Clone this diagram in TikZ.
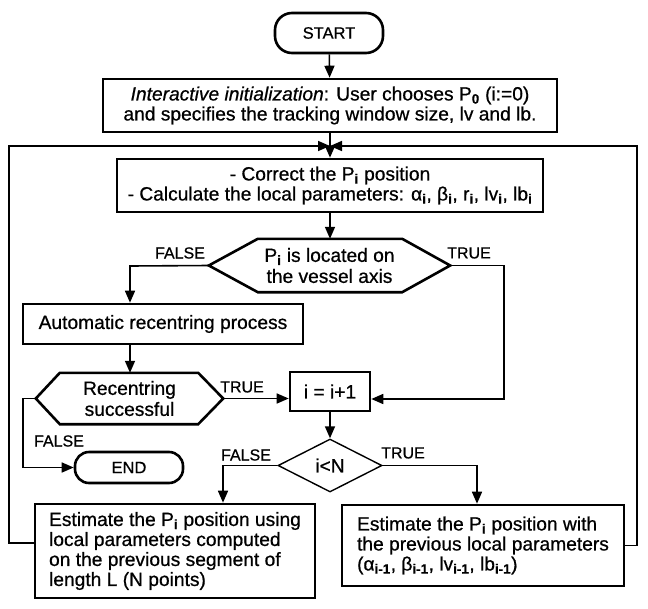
\documentclass[tikz,border=0pt]{standalone}
\usepackage{fontspec}
\setmainfont{Liberation Sans}[FakeBold=0.7]
\usetikzlibrary{arrows.meta,shapes.geometric,calc}
\newcommand{\sbi}[1]{\textsubscript{\bfseries #1}}
\begin{document}
\begin{tikzpicture}[x=1pt,y=-1pt,
  box/.style={draw,line width=2.6pt,inner sep=0pt,align=center,font=\fontsize{19.2}{20}\selectfont},
  term/.style={draw,line width=2.6pt,rounded corners=17pt,inner sep=0pt,font=\fontsize{16.5}{18}\selectfont},
  hexnode/.style={inner sep=0pt,align=center,font=\fontsize{19.2}{21}\selectfont},
  hexline/.style={line width=2.6pt},
  lbl/.style={font=\fontsize{16}{18}\selectfont,inner sep=0pt},
  conn/.style={line width=1.6pt},
  arr/.style={conn,-{Triangle[length=12pt,width=10pt]}},
  dia/.style={draw,diamond,line width=1.4pt,inner sep=0pt,aspect=1.96,minimum width=104pt,minimum height=53pt,font=\fontsize{19.2}{20}\selectfont}
]
\useasboundingbox (0,0) rectangle (648,608);

% nodes
\node[term,minimum width=108pt,minimum height=40pt] (start) at (329,33) {START};
\node[box,minimum width=454pt,minimum height=53pt] (init) at (330,105.5)
  {\textit{Interactive initialization}: User chooses P\sbi{0} (i:=0)\\and specifies the tracking window size, lv and lb.};
\coordinate (J) at (330,146);
\node[box,minimum width=426pt,minimum height=53pt] (corr) at (330,185.5)
  {- Correct the P\sbi{i} position\\- Calculate the local parameters: α\sbi{i}, β\sbi{i}, r\sbi{i}, lv\sbi{i}, lb\sbi{i}};

\node[hexnode,minimum width=241pt,minimum height=53pt] (d1) at (329.5,265.5)
  {P\sbi{i} is located on\\the vessel axis};
\draw[hexline] (d1.west) -- ($(d1.north west)+(49,0)$) -- ($(d1.north east)+(-48,0)$)
  -- (d1.east) -- ($(d1.south east)+(-48,0)$) -- ($(d1.south west)+(49,0)$) -- cycle;

\node[box,minimum width=280pt,minimum height=40pt] (auto) at (163,324) {Automatic recentring process};

\node[hexnode,minimum width=187pt,minimum height=51pt] (d2) at (129.5,398.5)
  {Recentring\\successful};
\draw[hexline] (d2.west) -- ($(d2.north west)+(24,0)$) -- ($(d2.north east)+(-25,0)$)
  -- (d2.east) -- ($(d2.south east)+(-25,0)$) -- ($(d2.south west)+(24,0)$) -- cycle;

\node[box,minimum width=80pt,minimum height=39pt] (inc) at (330,391.5) {i = i+1};
\node[term,rounded corners=14pt,minimum width=108pt,minimum height=31pt] (end) at (129,467.5) {END};
\node[dia] (d3) at (330,465.5) {i<N};

\node[box,align=left,minimum width=280pt,minimum height=94pt] (estL) at (175,551)
  {Estimate the P\sbi{i} position using\\local parameters computed\\on the  previous segment of\\length L (N points)};
\node[box,align=left,minimum width=282pt,minimum height=81pt] (estR) at (483,545.5)
  {Estimate the P\sbi{i} position with\\the previous local parameters\\(α\sbi{i-1}, β\sbi{i-1}, lv\sbi{i-1}, lb\sbi{i-1})};

% labels
\node[lbl] (lf1) at (180,253) {FALSE};
\node[lbl] (lt1) at (469,253) {TRUE};
\node[lbl] (lt2) at (242,387) {TRUE};
\node[lbl] (lf2) at (59,441) {FALSE};
\node[lbl] (lf3) at (246,455) {FALSE};
\node[lbl] (lt3) at (403,453) {TRUE};

% helper coordinates
\coordinate (f1) at (130,266);
\coordinate (t1) at (504,399);
\coordinate (f2) at (23,467.5);
\coordinate (f3) at (223,466);
\coordinate (t3) at (477,466);
\coordinate (lL) at (9,543);
\coordinate (lR) at (637,545.5);

% connectors
\draw[arr] (start) -- (init);
\draw[arr] (init) -- (corr);
\draw[arr] (corr.south) -- (corr.south |- d1.north);
\draw[arr] (d1.west) -- (f1) -- (f1 |- auto.north);
\draw[arr] (f1 |- auto.south) -- (f1 |- d2.north);
\draw[arr] (d1.east) -| (t1) -- (t1 -| inc.east);
\draw[arr] (d2.east) -- (d2.east -| inc.west);
\draw[arr] (d2.west) -| (f2) -- (end.west);
\draw[arr] (inc) -- (d3);
\draw[arr] (d3.west) -| (f3 |- estL.north);
\draw[arr] (d3.east) -| (t3 |- estR.north);
\draw[arr] (estL.west |- lL) -- (lL) |- (J);
\draw[arr] (estR.east) -- (lR) |- (J);
\end{tikzpicture}
\end{document}
